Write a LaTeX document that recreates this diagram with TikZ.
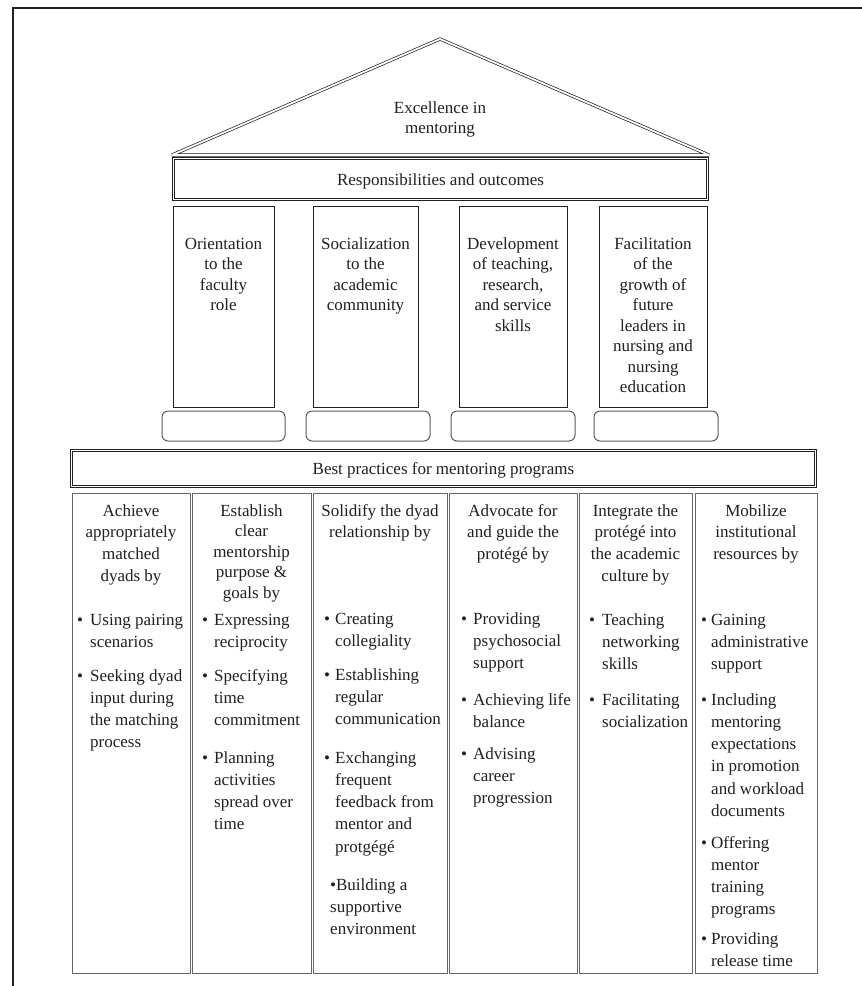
\documentclass[tikz,border=0pt]{standalone}
\usepackage{fontspec}
\setmainfont{Liberation Serif}
\usepackage{array}
\usetikzlibrary{fit}
\definecolor{ink}{HTML}{231F20}
\newcommand{\fsP}{\fontsize{17}{20.5}\selectfont}
\newcommand{\fsC}{\fontsize{17}{21.8}\selectfont}
\newcommand{\fsB}{\fontsize{17}{22.3}\selectfont}
\newcommand{\bul}[2]{\begin{tabular}[t]{@{}p{#1}@{}l@{}}\textbullet&#2\end{tabular}}
\newcommand{\ctab}[1]{\begin{tabular}[t]{@{}c@{}}#1\end{tabular}}
\newcommand{\ltab}[1]{\begin{tabular}[t]{@{}l@{}}#1\end{tabular}}
\tikzset{
  dbl/.style={draw=ink, line width=0.7pt, double=white, double distance=1.8pt},
  pillar/.style={draw=ink, line width=0.8pt, inner sep=0pt},
  basebox/.style={draw=black!65, line width=1pt, rounded corners=6pt, inner sep=0pt},
  colbox/.style={draw=black!60, line width=1pt, inner sep=0pt},
  txt/.style={inner sep=0pt, anchor=base, text=ink},
  itm/.style={inner sep=0pt, anchor=base west, text=ink, font=\fsB},
}
\begin{document}
\begin{tikzpicture}[x=1pt, y=-1pt]
\fill[white] (0,0) rectangle (862,986);
\useasboundingbox (0,0) rectangle (862,986);
% outer frame
\coordinate (fa) at (13,986);
\coordinate (fb) at (13,8);
\coordinate (fc) at (862,8);
\draw[line width=2pt, ink] (fa) -- (fb) -- (fc);
% roof
\coordinate (rl) at (172,155);
\coordinate (rt) at (440,39);
\coordinate (rr) at (709,155);
\draw[dbl, miter limit=1.5] (rl) -- (rt) -- (rr) -- cycle;
\node[txt, font=\fsP] (ex) at (440,113) {\ctab{Excellence in\\mentoring}};
% responsibilities box
\node[dbl, inner sep=0pt, fit={(173.5,158.5) (707.5,199.5)}] (rbox) {};
\node[txt, font=\fsP] (resp) at (440.5,185) {Responsibilities and outcomes};
% pillars
\node[pillar, fit={(173,206) (274,407)}] (p1) {};
\node[pillar, fit={(313,206) (418,407)}] (p2) {};
\node[pillar, fit={(459,206) (567,407)}] (p3) {};
\node[pillar, fit={(599,206) (707,407)}] (p4) {};
\node[txt, font=\fsP] (t1) at (223.5,249) {\ctab{Orientation\\to the\\faculty\\role}};
\node[txt, font=\fsP] (t2) at (365.5,249) {\ctab{Socialization\\to the\\academic\\community}};
\node[txt, font=\fsP] (t3) at (513,249) {\ctab{Development\\of teaching,\\research,\\and service\\skills}};
\node[txt, font=\fsP] (t4) at (653,249) {\ctab{Facilitation\\of the\\growth of\\future\\leaders in\\nursing and\\nursing\\education}};
% bases
\node[basebox, fit={(162,411) (285,441)}] (b1) {};
\node[basebox, fit={(306,411) (430,441)}] (b2) {};
\node[basebox, fit={(451,411) (575,441)}] (b3) {};
\node[basebox, fit={(594,411) (718,441)}] (b4) {};
% best practices
\node[dbl, inner sep=0pt, fit={(71.5,450.5) (815.5,486.5)}] (bpbox) {};
\node[txt, font=\fsP] (bp) at (443.5,474) {Best practices for mentoring programs};
% columns
\node[colbox, fit={(72,493) (190,973)}] (c1) {};
\node[colbox, fit={(192,493) (311,973)}] (c2) {};
\node[colbox, fit={(313,493) (447,973)}] (c3) {};
\node[colbox, fit={(449,493) (577,973)}] (c4) {};
\node[colbox, fit={(579,493) (692,973)}] (c5) {};
\node[colbox, fit={(695,493) (817,973)}] (c6) {};
% column headers
\node[txt, font=\fsC] (h1) at (131,516) {\ctab{Achieve\\appropriately\\matched\\dyads by}};
\node[txt, font=\fsP] (h2) at (251.5,516) {\ctab{Establish\\clear\\mentorship\\purpose \&\\goals by}};
\node[txt, font=\fsC] (h3) at (380,516) {\ctab{Solidify the dyad\\relationship by}};
\node[txt, font=\fsC] (h4) at (513,516) {\ctab{Advocate for\\and guide the\\protégé by}};
\node[txt, font=\fsC] (h5) at (635.5,516) {\ctab{Integrate the\\protégé into\\the academic\\culture by}};
\node[txt, font=\fsC] (h6) at (756,516) {\ctab{Mobilize\\institutional\\resources by}};
% items column 1
\node[itm] (i11) at (77,625) {\bul{13pt}{Using pairing\\&scenarios}};
\node[itm] (i12) at (77,681) {\bul{13pt}{Seeking dyad\\&input during\\&the matching\\&process}};
% column 2
\node[itm] (i21) at (202,625) {\bul{12pt}{Expressing\\&reciprocity}};
\node[itm] (i22) at (202,681) {\bul{12pt}{Specifying\\&time\\&commitment}};
\node[itm] (i23) at (202,763) {\bul{12pt}{Planning\\&activities\\&spread over\\&time}};
% column 3
\node[itm] (i31) at (324,624) {\bul{11pt}{Creating\\&collegiality}};
\node[itm] (i32) at (324,680) {\bul{11pt}{Establishing\\&regular\\&communication}};
\node[itm] (i33) at (324,763) {\bul{11pt}{Exchanging\\&frequent\\&feedback from\\&mentor and\\&protgégé}};
\node[itm] (i34) at (330,890) {\ltab{\textbullet Building a\\supportive\\environment}};
% column 4
\node[itm] (i41) at (461,624) {\bul{12pt}{Providing\\&psychosocial\\&support}};
\node[itm] (i42) at (461,705) {\bul{12pt}{Achieving life\\&balance}};
\node[itm] (i43) at (461,759) {\bul{12pt}{Advising\\&career\\&progression}};
% column 5
\node[itm] (i51) at (589,625) {\bul{13pt}{Teaching\\&networking\\&skills}};
\node[itm] (i52) at (589,705) {\bul{13pt}{Facilitating\\&socialization}};
% column 6
\node[itm] (i61) at (701,625) {\bul{10pt}{Gaining\\&administrative\\&support}};
\node[itm] (i62) at (701,705) {\bul{10pt}{Including\\&mentoring\\&expectations\\&in promotion\\&and workload\\&documents}};
\node[itm] (i63) at (701,848) {\bul{10pt}{Offering\\&mentor\\&training\\&programs}};
\node[itm] (i64) at (701,944) {\bul{10pt}{Providing\\&release time}};
\end{tikzpicture}
\end{document}
